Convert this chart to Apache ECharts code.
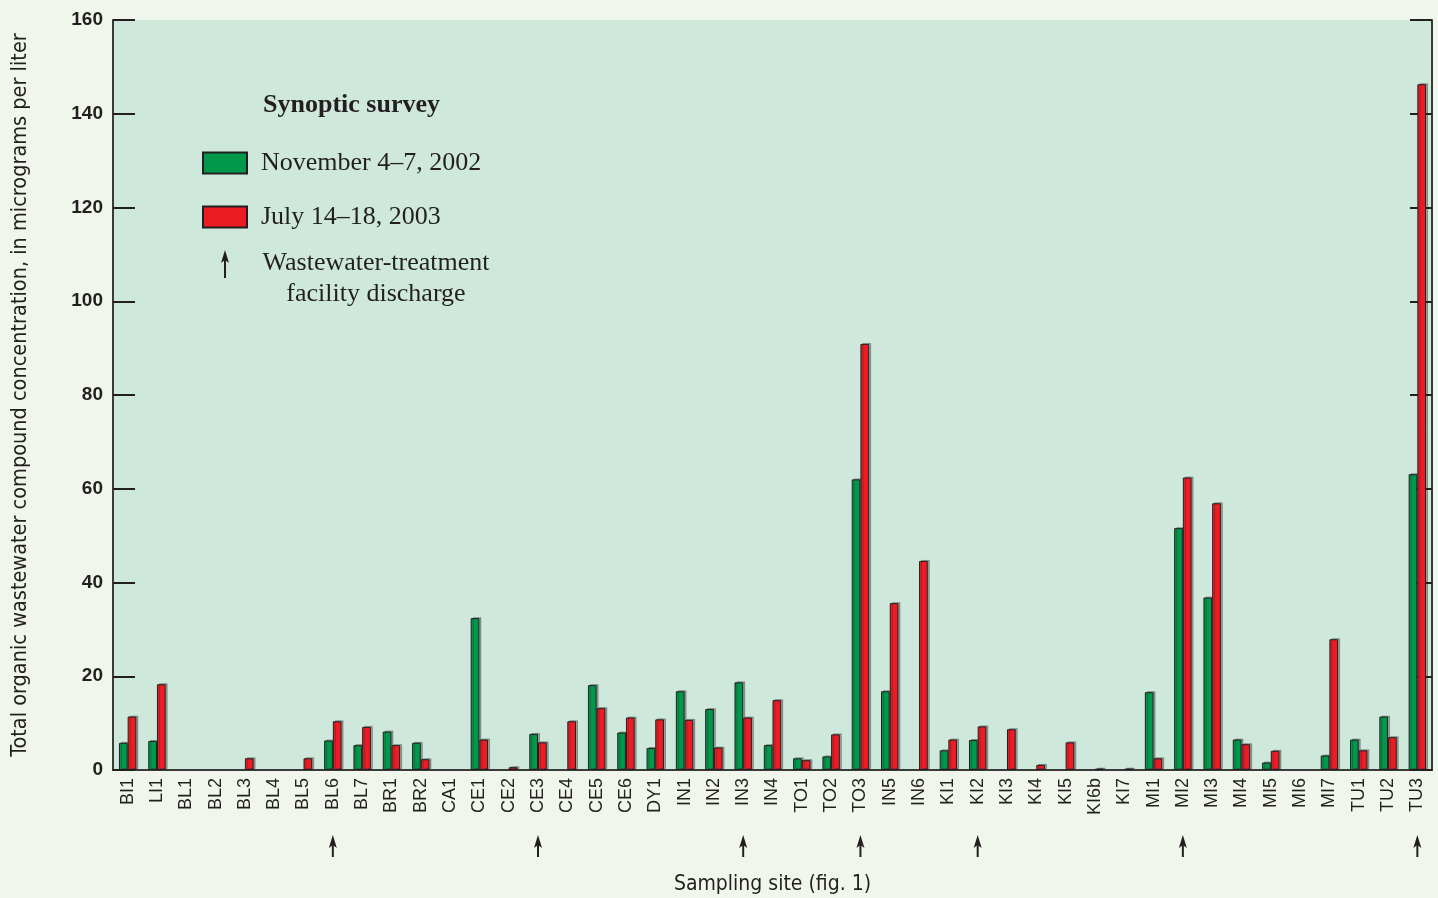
<!DOCTYPE html>
<html><head><meta charset="utf-8">
<script src="https://cdn.jsdelivr.net/npm/echarts@6/dist/echarts.min.js"></script>
<style>html,body{margin:0;padding:0;background:#f1f6ec;}#c{width:1438px;height:898px;}</style>
</head><body><div id="c"></div>
<script>
const categories = ['BI1','LI1','BL1','BL2','BL3','BL4','BL5','BL6','BL7','BR1','BR2','CA1','CE1','CE2','CE3','CE4','CE5','CE6','DY1','IN1','IN2','IN3','IN4','TO1','TO2','TO3','IN5','IN6','KI1','KI2','KI3','KI4','KI5','KI6b','KI7','MI1','MI2','MI3','MI4','MI5','MI6','MI7','TU1','TU2','TU3'];
const nov2002 = [5.8,6.2,null,null,null,null,null,6.3,5.3,8.2,5.8,null,32.4,null,7.7,null,18.1,8.0,4.7,16.8,13.0,18.7,5.3,2.5,2.9,62.0,16.8,null,4.2,6.4,null,null,null,null,null,16.6,51.6,36.8,6.5,1.6,null,3.1,6.5,11.4,63.1];
const jul2003 = [11.4,18.3,null,null,2.5,null,2.5,10.4,9.2,5.3,2.3,null,6.5,0.6,5.9,10.4,13.2,11.2,10.8,10.7,4.8,11.2,14.9,2.1,7.6,90.9,35.6,44.6,6.5,9.3,8.7,1.1,5.9,0.3,0.3,2.5,62.4,56.9,5.5,4.1,null,27.9,4.2,7.0,146.3];
const seriesNames = ['November 4–7, 2002','July 14–18, 2003'];
const dischargeSites = ['BL6','CE3','IN3','TO3','KI2','MI2','TU3'];
const yTicks = {min:0, max:160, interval:20};

const INK = '#231f20';
const AX = '#3a3a3a';
const COND = '"Liberation Sans Narrow", "DejaVu Sans Condensed", "Roboto Condensed", sans-serif';
const chart = echarts.init(document.getElementById('c'), null, {renderer:'canvas'});
const barStyle = (color) => ({
  color: color, borderColor: INK, borderWidth: 1,
  shadowColor: 'rgba(40,40,40,0.35)', shadowOffsetX: 2, shadowOffsetY: -1, shadowBlur: 0
});
chart.setOption({
  backgroundColor: '#f1f6ec',
  animation: false,
  grid: {left:113, right:6, top:20, bottom:128, show:true, backgroundColor:'#cfe8dc', borderWidth:0,
         containLabel:false, outerBoundsMode:'none'},
  legend: {
    orient:'vertical', left:202, top:150, padding:0, itemWidth:44, itemHeight:21, itemGap:28,
    icon:'rect', data: seriesNames,
    textStyle:{fontFamily:'Liberation Serif', fontSize:26, color:INK, padding:[0,0,0,9]},
    selectedMode:false
  },
  xAxis: [{
    type:'category', data:categories, position:'bottom',
    axisLine:{lineStyle:{color:AX, width:2}},
    axisTick:{inside:true, length:17, lineStyle:{color:INK, width:2}},
    axisLabel:{rotate:90, margin:8, fontFamily:'Liberation Sans', fontSize:18, color:INK, interval:0},
    name:'Sampling site (fig. 1)', nameLocation:'middle', nameGap:104,
    nameTextStyle:{fontFamily:COND, fontSize:21, color:INK}
  },{
    type:'category', data:categories, position:'top',
    axisLine:{lineStyle:{color:AX, width:2}},
    axisTick:{inside:true, length:17, lineStyle:{color:INK, width:2}},
    axisLabel:{show:false}
  }],
  yAxis: [{
    type:'value', min:yTicks.min, max:yTicks.max, interval:yTicks.interval, position:'left',
    axisLine:{show:true, lineStyle:{color:AX, width:2}},
    axisTick:{show:true, inside:true, length:22, lineStyle:{color:INK, width:2}},
    splitLine:{show:false},
    axisLabel:{margin:10, fontFamily:'Liberation Sans', fontWeight:'bold', fontSize:19, color:INK},
    name:'Total organic wastewater compound concentration, in micrograms per liter',
    nameLocation:'middle', nameGap:82, nameRotate:90,
    nameTextStyle:{fontFamily:COND, fontSize:21.5, color:INK}
  },{
    type:'value', min:yTicks.min, max:yTicks.max, interval:yTicks.interval, position:'right',
    axisLine:{show:true, lineStyle:{color:AX, width:2}},
    axisTick:{show:true, inside:true, length:22, lineStyle:{color:INK, width:2}},
    splitLine:{show:false}, axisLabel:{show:false}
  }],
  series: [
    {name:seriesNames[0], type:'bar', data:nov2002, barWidth:8.7, barGap:'0%', itemStyle:barStyle('#00984a')},
    {name:seriesNames[1], type:'bar', data:jul2003, barWidth:8.7, barGap:'0%', itemStyle:barStyle('#ed1c24')}
  ]
});

function arrow(x, yTop, yBot) {
  return [
    {type:'line', shape:{x1:x, y1:yTop+8, x2:x, y2:yBot}, style:{stroke:INK, lineWidth:2}, silent:true},
    {type:'polygon', shape:{points:[[x, yTop],[x-4, yTop+13],[x, yTop+10],[x+4, yTop+13]]}, style:{fill:INK}, silent:true}
  ];
}
const g = [];
g.push({type:'text', left:263, top:92, style:{text:'Synoptic survey', font:'bold 26px "Liberation Serif"', fill:INK}});
g.push(...arrow(225, 250, 278));
g.push({type:'text', x:376, y:248, style:{text:'Wastewater-treatment\nfacility discharge', font:'26px "Liberation Serif"', fill:INK, textAlign:'center', lineHeight:31}});
dischargeSites.forEach(s => {
  const x = chart.convertToPixel({xAxisIndex:0}, s);
  g.push(...arrow(x, 835, 857));
});
chart.setOption({graphic: g});
</script></body></html>
